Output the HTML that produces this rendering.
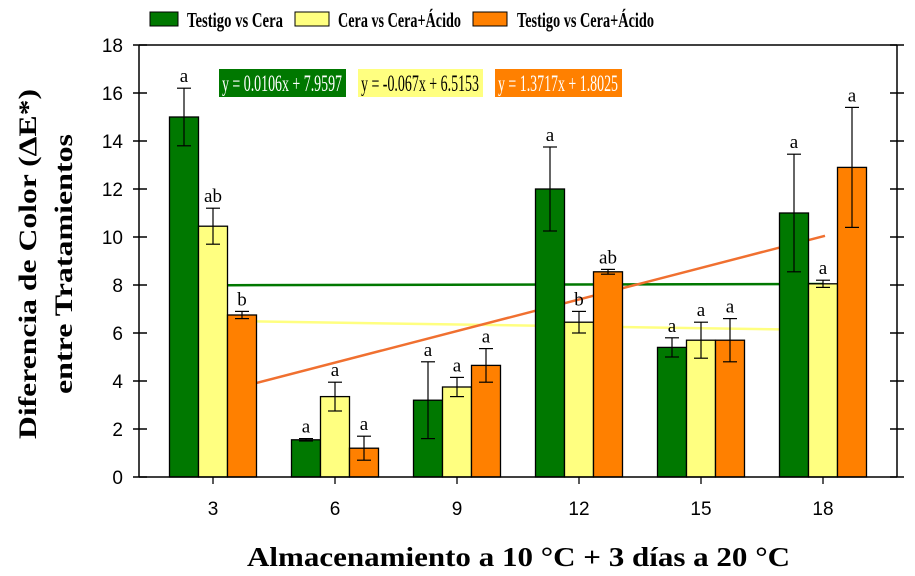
<!DOCTYPE html>
<html><head><meta charset="utf-8"><style>
body{margin:0;background:#fff;}
svg{display:block;}
text{font-family:"Liberation Serif",serif;}
.ax{font-family:"Liberation Sans",sans-serif;font-size:19px;}
</style></head><body>
<svg id="chart" width="915" height="576" xmlns="http://www.w3.org/2000/svg">
</svg>
<script>
const categories=["3","6","9","12","15","18"];
const seriesNames=["Testigo vs Cera","Cera vs Cera+Ácido","Testigo vs Cera+Ácido"];
const greenVals=[15.0,1.55,3.2,12.0,5.4,11.0];
const yellowVals=[10.45,3.35,3.75,6.45,5.7,8.05];
const orangeVals=[6.75,1.2,4.65,8.55,5.7,12.9];
const greenErr=[1.2,0.05,1.6,1.75,0.4,2.45];
const yellowErr=[0.75,0.6,0.4,0.45,0.75,0.15];
const orangeErr=[0.15,0.5,0.7,0.1,0.9,2.5];
const greenLetters=["a","a","a","a","a","a"];
const yellowLetters=["ab","a","a","b","a","a"];
const orangeLetters=["b","a","a","ab","a","a"];
const yTicks=[0,2,4,6,8,10,12,14,16,18];
const trendStartVals=[7.99,6.5,3.6];
const trendEndVals=[8.04,6.15,10.05];
const trendEq=["y = 0.0106x + 7.9597","y = -0.067x + 6.5153","y = 1.3717x + 1.8025"];

const svg=document.getElementById('chart');
const NS='http://www.w3.org/2000/svg';
const L=139,R=897,T=45,B=477;
const y=v=>B-(v/18)*(B-T);
const xc=i=>213+i*122;
const BW=29;
const colors=["#007800","#FFFF80","#FF8000"];
function el(tag,attrs,txt){const e=document.createElementNS(NS,tag);for(const k in attrs)e.setAttribute(k,attrs[k]);if(txt!=null)e.textContent=txt;svg.appendChild(e);return e;}

const tColors=["#007800","#FFFF80","#F07030"];
const tEnd=[823,780,825];
for(let s=0;s<3;s++){
  const ln=el('line',{x1:227,y1:y(trendStartVals[s]),x2:tEnd[s],y2:y(trendEndVals[s]),stroke:tColors[s],'stroke-width':2.5});
  
  
}

el('line',{x1:L,y1:T,x2:R,y2:T,stroke:'#000','stroke-width':1.5});
el('line',{x1:L,y1:T,x2:L,y2:B,stroke:'#000','stroke-width':1.5});
el('line',{x1:R,y1:T,x2:R,y2:B,stroke:'#000','stroke-width':1.5});
yTicks.forEach(t=>{
  el('line',{x1:133,y1:y(t),x2:147,y2:y(t),stroke:'#000','stroke-width':1.5});
  el('line',{x1:890,y1:y(t),x2:904,y2:y(t),stroke:'#000','stroke-width':1.5});
  const tx=el('text',{x:123,y:y(t)+7,'text-anchor':'end',class:'ax'},String(t));
  
  
});

const vals=[greenVals,yellowVals,orangeVals],errs=[greenErr,yellowErr,orangeErr],lets=[greenLetters,yellowLetters,orangeLetters];
categories.forEach((c,i)=>{
  for(let s=0;s<3;s++){
    const x0=xc(i)-BW*1.5+s*BW;
    const r=el('rect',{x:x0,y:y(vals[s][i]),width:BW,height:B-y(vals[s][i]),fill:colors[s],stroke:'#000','stroke-width':1.3});
    
    
    const cx=x0+BW/2,hi=vals[s][i]+errs[s][i],lo=vals[s][i]-errs[s][i];
    el('line',{x1:cx,y1:y(hi),x2:cx,y2:y(lo),stroke:'#000','stroke-width':1.2});
    el('line',{x1:cx-7,y1:y(hi),x2:cx+7,y2:y(hi),stroke:'#000','stroke-width':1.2});
    el('line',{x1:cx-7,y1:y(lo),x2:cx+7,y2:y(lo),stroke:'#000','stroke-width':1.2});
    const lt=el('text',{x:cx,y:y(hi)-6,'text-anchor':'middle','font-size':19},lets[s][i]);
    
    
  }
  el('line',{x1:xc(i),y1:B,x2:xc(i),y2:B+7,stroke:'#000','stroke-width':1.3});
  const tl=el('text',{x:xc(i),y:B+38,'text-anchor':'middle',class:'ax'},c);
  
  
});
el('line',{x1:L,y1:B,x2:R,y2:B,stroke:'#000','stroke-width':1.5});

const eqX=[219,358,495],eqW=[127,125,127],eqFill=["#007800","#FFFF80","#FF8000"],eqTxt=["#fff","#000","#fff"];
for(let s=0;s<3;s++){
  const b=el('rect',{x:eqX[s],y:69,width:eqW[s],height:28,fill:eqFill[s]});
  
  
  const t=el('text',{x:eqX[s]+3,y:91,'font-size':23,fill:eqTxt[s],textLength:eqW[s]-7,lengthAdjust:'spacingAndGlyphs'},trendEq[s]);
  
  
}

const lgX=[150,295,473],lgW=[28,34,34],lgTX=[187,338,517],lgTW=[96,123,137];
for(let s=0;s<3;s++){
  const r=el('rect',{x:lgX[s],y:12,width:lgW[s],height:14,fill:colors[s],stroke:'#000','stroke-width':1});
  
  
  const t=el('text',{x:lgTX[s],y:27,'font-size':21,'font-weight':'bold',textLength:lgTW[s],lengthAdjust:'spacingAndGlyphs'},seriesNames[s]);
  
  
}

const yt1=el('text',{x:0,y:0,'text-anchor':'middle','font-size':25,'font-weight':'bold',transform:'translate(36,264) rotate(-90)',textLength:350,lengthAdjust:'spacingAndGlyphs'},'Diferencia de Color  (ΔE*)');


const yt2=el('text',{x:0,y:0,'text-anchor':'middle','font-size':25,'font-weight':'bold',transform:'translate(72,264) rotate(-90)',textLength:260,lengthAdjust:'spacingAndGlyphs'},'entre Tratamientos');


const xt=el('text',{x:247,y:566,'font-size':27,'font-weight':'bold',textLength:543,lengthAdjust:'spacingAndGlyphs'},'Almacenamiento a 10 °C + 3 días a 20 °C');


</script>
</body></html>
